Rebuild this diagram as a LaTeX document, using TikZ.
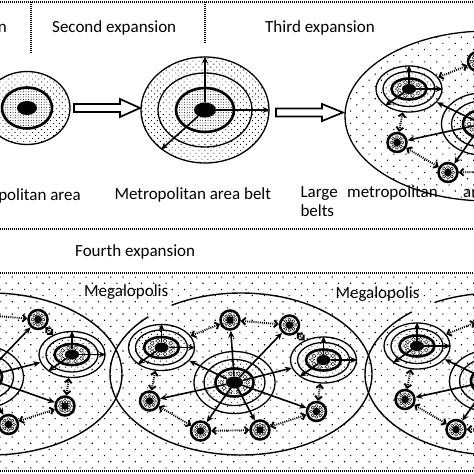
\documentclass[tikz,border=0pt]{standalone}
\usepackage{fontspec}
\setmainfont{Carlito}
\usetikzlibrary{arrows.meta,shapes.geometric,patterns.meta}
\tikzset{
  bgsparse/.style={preaction={fill=white}, pattern={Dots[distance=8.7pt,angle=45,radius=0.8pt]}},
  bgmed/.style={preaction={fill=white}, pattern={Dots[distance=4.2pt,angle=45,radius=0.6pt]}},
  bgdense/.style={preaction={fill=white}, pattern={Dots[distance=2.6pt,radius=0.5pt]}},
  ring/.style={ellipse, draw, line width=1.3pt, inner sep=0pt},
  thickring/.style={ellipse, draw, line width=2.6pt, inner sep=0pt},
  core/.style={ellipse, fill=black, inner sep=0pt},
  hubbeads/.style={bgdense, path picture={
     \foreach \a in {0,36,...,324}
       \draw[line width=0.4pt, fill=white] (path picture bounding box.center) ++(\a:#1) circle[radius=1.9pt];}},
  snode/.style={circle, draw, line width=2.5pt, minimum size=19pt, inner sep=0pt, bgdense,
     path picture={
       \foreach \a in {0,45,...,315}
         \draw[line width=0.4pt, fill=white] (path picture bounding box.center) ++(\a:5.4pt) circle[radius=1.5pt];
       \fill[black] (path picture bounding box.center) circle[radius=3.8pt];}},
  sarrow/.style={line width=1.6pt, -{Stealth[length=7pt,width=6pt]}},
  darrow/.style={line width=1.9pt, dash pattern=on 1pt off 1.1pt,
     {Straight Barb[length=3.5pt,width=7pt]}-{Straight Barb[length=3.5pt,width=7pt]}},
  sepline/.style={line width=1.3pt, dash pattern=on 1pt off 1pt},
  blockarrow/.style={line width=1.7pt, fill=white, line join=miter},
  lbl/.style={font=\fontsize{17}{20}\selectfont, inner sep=0pt},
  megaline/.style={line width=1.4pt},
  cluster/.pic={
    \node[ring, bgsparse, minimum width=81pt, minimum height=62pt] (-hub) at (0,0) {};
    \node[ring, bgmed, minimum width=61pt, minimum height=46pt] (-hub2) at (0,0) {};
    \node[thickring, hubbeads={13pt and 9.3pt}, minimum width=38pt, minimum height=28pt] (-hub3) at (0,0) {};
    \node[core, minimum width=17pt, minimum height=12pt] (-core) at (0,0) {};
    \foreach \n/\p in {A/{-73,-35}, B/{89,-22.5}} {
      \node[ring, bgsparse, minimum width=66pt, minimum height=46pt] (-\n) at (\p) {};
      \node[ring, bgmed, minimum width=52pt, minimum height=35pt] (-\n m) at (\p) {};
      \node[thickring, hubbeads={11.5pt and 7pt}, minimum width=35pt, minimum height=21pt] (-\n i) at (\p) {};
      \node[core, minimum width=14pt, minimum height=10pt] (-\n c) at (\p) {};
      \draw[sarrow] (-\n c) -- (-\n.90);
      \draw[sarrow] (-\n c) -- (-\n.0);
      \draw[sarrow] (-\n c) -- (-\n.215);
    }
    \node[snode] (-C) at (-4.5,-62.5) {};
    \node[snode] (-D) at (55,-57.5) {};
    \node[snode] (-E) at (-85,18.5) {};
    \node[snode] (-F) at (-34,48.5) {};
    \node[snode] (-G) at (25.5,47.5) {};
    \node[snode] (-I) at (82,29) {};
    \foreach \t in {A,B,C,D,E,F,G,I} \draw[sarrow] (-core) -- (-\t);
    \draw[darrow] (-A) -- (-C);
    \draw[darrow] (-C) -- (-D);
    \draw[darrow] (-D) -- (-B);
    \draw[darrow] (-A.255) -- (-E);
    \draw[darrow] (-E) -- (-F);
    \draw[darrow] (-F) -- (-G);
    \draw[darrow] (-G) -- (-I);
    \draw[darrow] (-I) -- (-B);
  }
}
\begin{document}
\begin{tikzpicture}[x=1pt,y=-1pt]
\useasboundingbox (0,0) rectangle (474,474);
\fill[white] (0,0) rectangle (474,474);

% ---------- top section ----------
\draw[sepline] (0,2) -- (474,2);
\draw[sepline] (31,2) -- (31,54);
\draw[sepline] (205,2) -- (205,43);
\node[lbl, anchor=base east] (t1) at (7,32) {First expansion};
\node[lbl, anchor=base west] (t2) at (52,32) {Second expansion};
\node[lbl, anchor=base west] (t3) at (265,32.5) {Third expansion};

% first stage
\node[ring, bgmed, minimum width=86pt, minimum height=73pt] (g1) at (27,108) {};
\node[thickring, bgdense, minimum width=50pt, minimum height=41pt] (g1in) at (27,108) {};
\node[core, minimum width=20pt, minimum height=14pt] (g1core) at (27,108) {};

\draw[blockarrow] (74,104) -- (120,104) -- (120,99) -- (140,108) -- (120,117) -- (120,112) -- (74,112) -- cycle;

% second stage
\node[ring, bgmed, minimum width=128pt, minimum height=106pt] (g2) at (205,110) {};
\node[ring, bgmed, minimum width=94pt, minimum height=74pt] (g2m) at (205,110) {};
\node[thickring, bgdense, minimum width=58pt, minimum height=44pt] (g2in) at (205,110) {};
\node[core, minimum width=22pt, minimum height=15pt] (g2core) at (205,110) {};
\draw[sarrow] (g2core) -- (g2.90);
\draw[sarrow] (g2core) -- (g2.0);
\draw[sarrow] (g2core) -- (g2.222);

\draw[blockarrow] (276,108.5) -- (322,108.5) -- (322,104) -- (343,112.5) -- (322,121) -- (322,116.5) -- (276,116.5) -- cycle;

% third stage
\node[ring, bgsparse, minimum width=286pt, minimum height=170pt] (e3) at (488,116) {};
\pic (t) at (482,124) {cluster};

\node[lbl, anchor=base east] (l1) at (81,200) {Metropolitan area};
\node[lbl, anchor=base west] (l2) at (114.3,199) {Metropolitan area belt};
\node[lbl, anchor=base west] (l3a) at (300.3,197) {Large};
\node[lbl, anchor=base west] (l3b) at (347,197) {metropolitan};
\node[lbl, anchor=base west] (l3c) at (463,197) {area};
\node[lbl, anchor=base west] (l3d) at (300.3,216.5) {belts};

\draw[sepline] (0,229) -- (474,229);
\node[lbl, anchor=base west] (t4) at (75,256) {Fourth expansion};

% ---------- bottom section ----------
\path[bgsparse] (0,273) rectangle (474,471);
\draw[sepline] (0,273) -- (474,273);
\draw[sepline, line width=1.6pt] (0,471) -- (474,471);

\draw[megaline] (-9,374) ++(135:131pt and 81pt) arc[start angle=135, end angle=482, x radius=131pt, y radius=81pt];
\draw[megaline] (241,374) ++(135:131pt and 81pt) arc[start angle=135, end angle=482, x radius=131pt, y radius=81pt];
\draw[megaline] (496,374) ++(130:131pt and 81pt) arc[start angle=130, end angle=478, x radius=131pt, y radius=81pt];

\node[lbl, anchor=base west] (m1) at (84,296) {Megalopolis};
\node[lbl, anchor=base west] (m2) at (335.3,298.3) {Megalopolis};

\pic (p) at (-17,377) {cluster};
\pic (q) at (234.5,382.5) {cluster};
\pic (r) at (490,381) {cluster};
\end{tikzpicture}
\end{document}
